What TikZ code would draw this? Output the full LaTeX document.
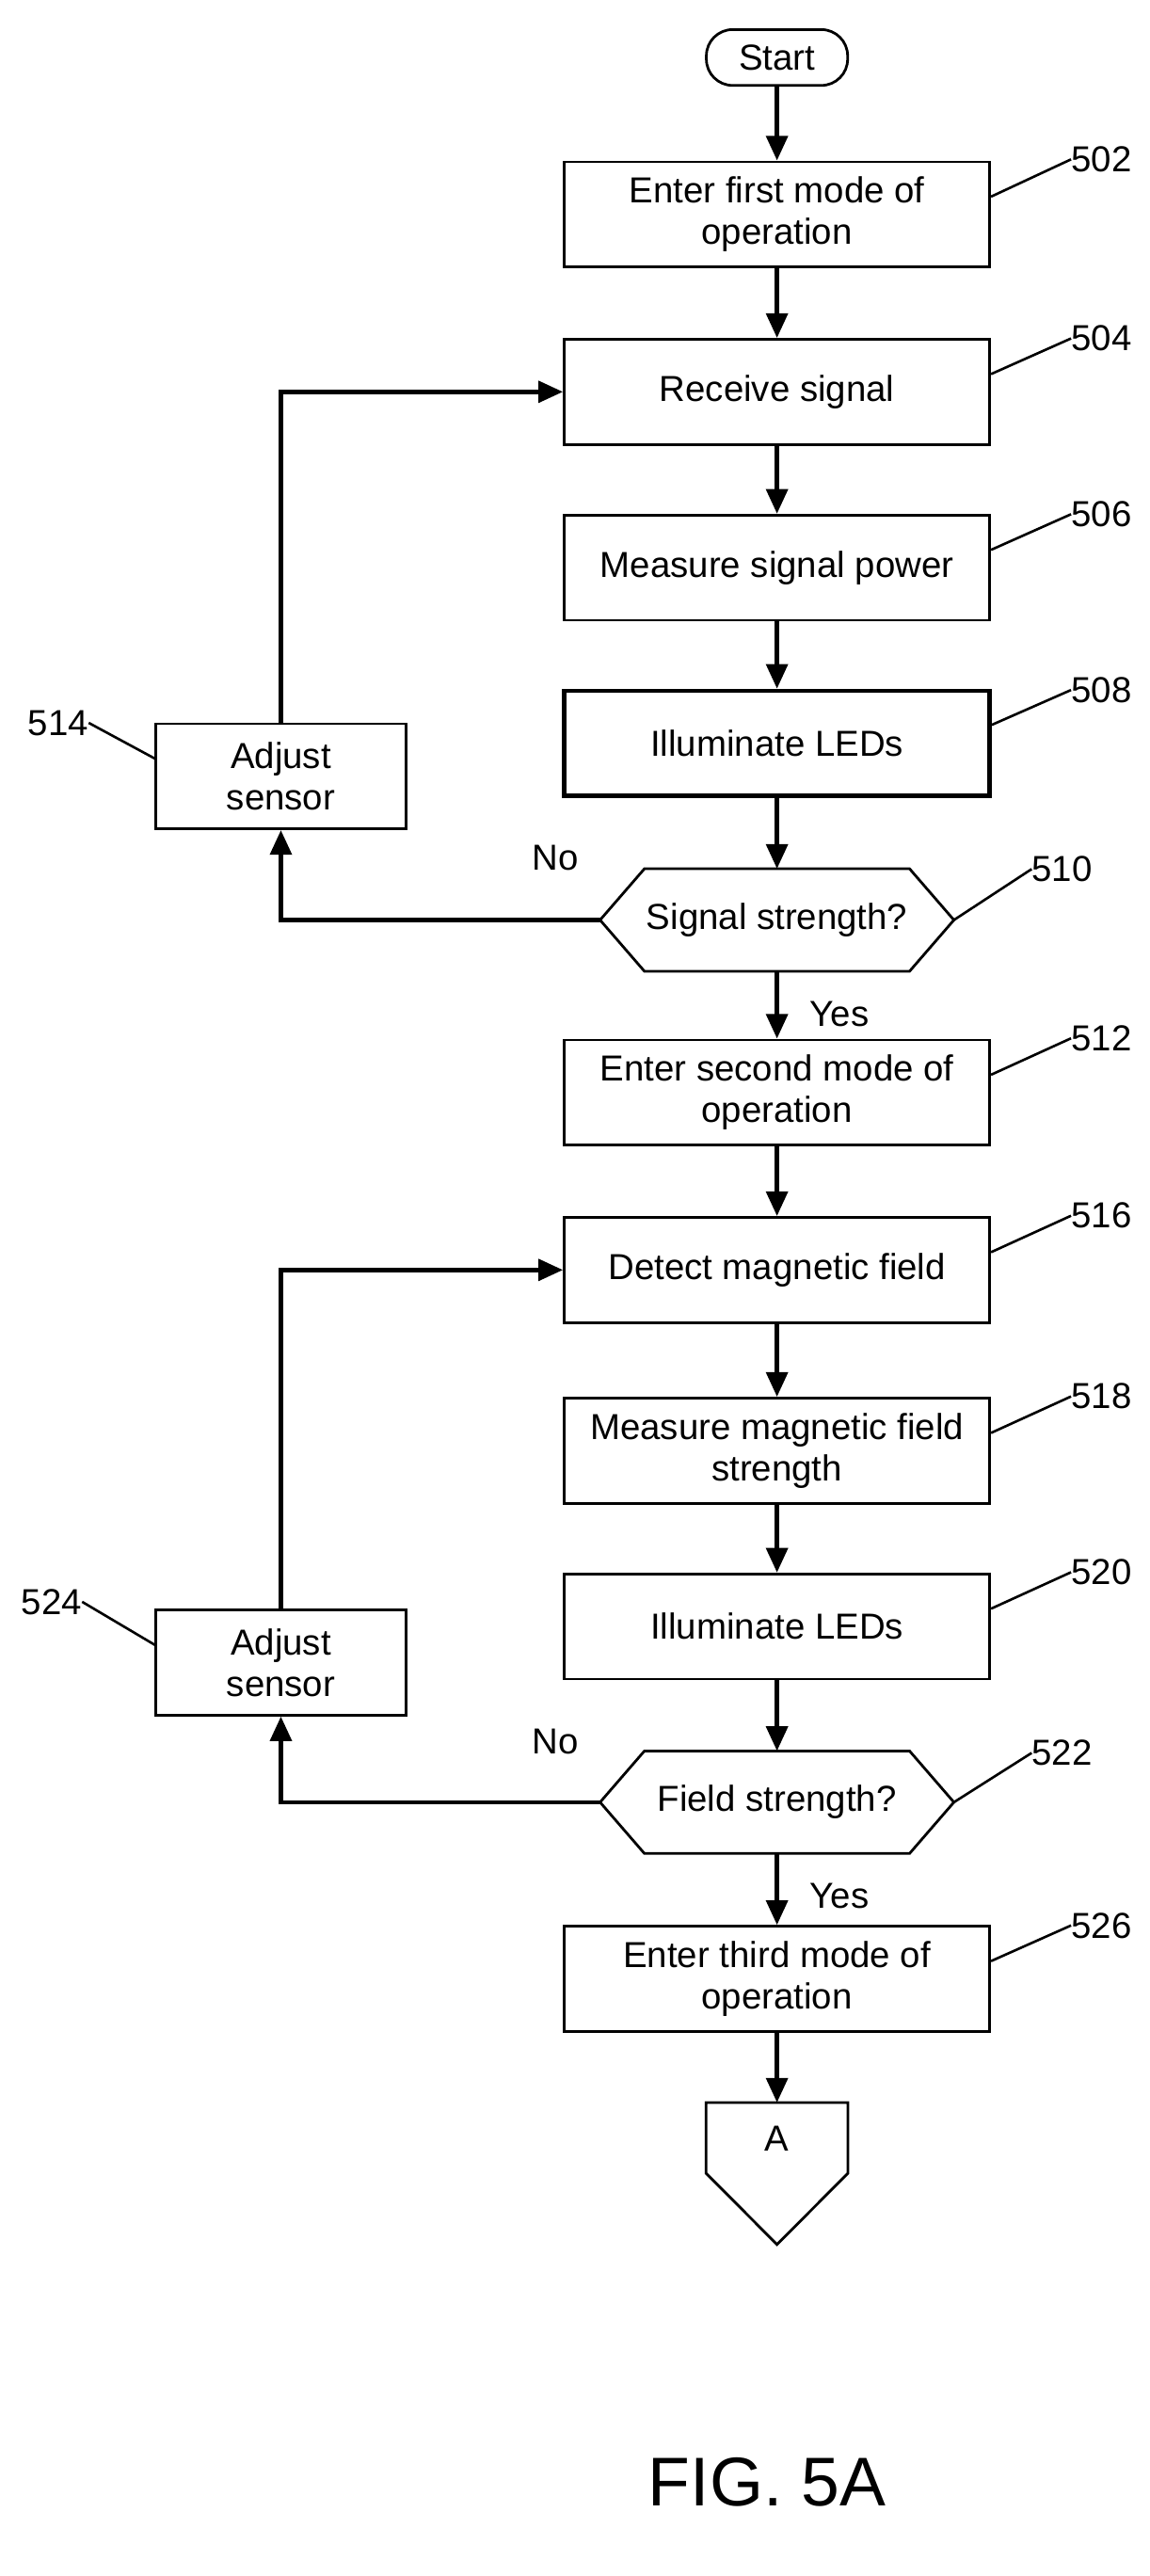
\documentclass[tikz,border=0pt]{standalone}
\usepackage{fontspec}
\setmainfont{Liberation Sans}
\usetikzlibrary{arrows.meta,calc}
\tikzset{
  box/.style={draw, line width=1.6pt, minimum width=259pt, minimum height=64pt, align=center, inner sep=2pt},
  side/.style={draw, line width=1.6pt, minimum width=152pt, minimum height=64pt, align=center},
  hex/.style={minimum width=215pt, minimum height=62pt},
  flow/.style={line width=2.6pt, -{Triangle[length=15pt,width=13pt]}},
  lead/.style={line width=1.5pt},
  ref/.style={anchor=west, inner sep=0pt}
}
\begin{document}
\fontsize{22}{25}\selectfont
\begin{tikzpicture}[x=1pt, y=-1pt]
  \useasboundingbox (0,0) rectangle (700,1568);

  % main column
  \node[draw, line width=1.6pt, rounded corners=16pt, minimum width=86pt, minimum height=34pt] (start) at (473,35) {Start};
  \node[box] (b502) at (473,130.5) {Enter first mode of\\operation};
  \node[box] (b504) at (473,238.5) {Receive signal};
  \node[box] (b506) at (473,345.5) {Measure signal power};
  \node[box, line width=2.6pt] (b508) at (473,452.5) {Illuminate LEDs};
  \node[hex] (h510) at (473,560) {Signal strength?};
  \node[box] (b512) at (473,665) {Enter second mode of\\operation};
  \node[box] (b516) at (473,773) {Detect magnetic field};
  \node[box] (b518) at (473,883) {Measure magnetic field\\strength};
  \node[box] (b520) at (473,990) {Illuminate LEDs};
  \node[hex] (h522) at (473,1097) {Field strength?};
  \node[box] (b526) at (473,1204.5) {Enter third mode of\\operation};
  \node[minimum width=86pt, minimum height=86pt] (conA) at (473,1323) {};
  \node (labA) at (473,1302) {A};

  % side boxes
  \node[side] (b514) at (171,472.5) {Adjust\\sensor};
  \node[side] (b524) at (171,1012) {Adjust\\sensor};

  % hexagons and off-page connector
  \foreach \h in {h510,h522}
    \draw[line width=1.6pt] (\h.west) -- ([xshift=27pt]\h.north west) -- ([xshift=-27pt]\h.north east)
      -- (\h.east) -- ([xshift=-27pt]\h.south east) -- ([xshift=27pt]\h.south west) -- cycle;
  \draw[line width=1.6pt] (conA.north west) -- (conA.north east) -- ([yshift=-43pt]conA.north east)
    -- (conA.south) -- ([yshift=-43pt]conA.north west) -- cycle;

  % connectors
  \draw[flow] (start) -- (b502);
  \draw[flow] (b502) -- (b504);
  \draw[flow] (b504) -- (b506);
  \draw[flow] (b506) -- (b508);
  \draw[flow] (b508) -- (h510.north);
  \draw[flow] (h510.south) -- (b512);
  \draw[flow] (b512) -- (b516);
  \draw[flow] (b516) -- (b518);
  \draw[flow] (b518) -- (b520);
  \draw[flow] (b520) -- (h522.north);
  \draw[flow] (h522.south) -- (b526);
  \draw[flow] (b526) -- (conA.north);
  \draw[flow] (h510.west) -| (b514.south);
  \draw[flow] (b514.north) |- (b504.west);
  \draw[flow] (h522.west) -| (b524.south);
  \draw[flow] (b524.north) |- (b516.west);
  \node (no1) at (338,522) {No};
  \node (yes1) at (511,617) {Yes};
  \node (no2) at (338,1060) {No};
  \node (yes2) at (511,1154) {Yes};

  % reference numerals
  \foreach \n/\y in {502/97,504/206,506/313,508/420,512/632,516/740,518/850,520/957,526/1172} {
    \node[ref] (r\n) at (652,\y) {\n};
    \draw[lead] ([yshift=-22pt]b\n.north east) -- (r\n.west);
  }
  \node[ref] (r510) at (628,529) {510};
  \draw[lead] (h510.east) -- (r510.west);
  \node[ref] (r522) at (628,1067) {522};
  \draw[lead] (h522.east) -- (r522.west);
  \node[ref, anchor=east] (r514) at (54,440) {514};
  \draw[lead] (r514.east) -- ([yshift=-22pt]b514.north west);
  \node[ref, anchor=east] (r524) at (50,975) {524};
  \draw[lead] (r524.east) -- ([yshift=-22pt]b524.north west);

  \node[font=\fontsize{42}{46}\selectfont] (fig) at (467,1511) {FIG. 5A};
\end{tikzpicture}
\end{document}
